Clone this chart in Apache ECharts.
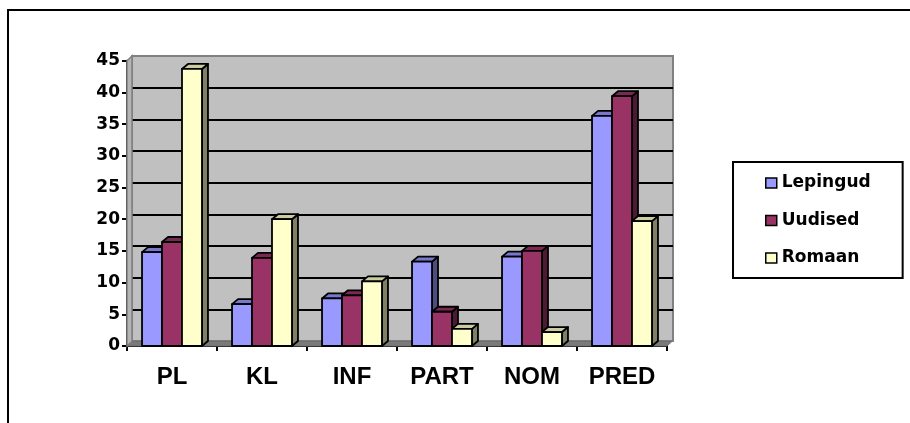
<!DOCTYPE html>
<html>
<head>
<meta charset="utf-8">
<script src="https://cdn.jsdelivr.net/npm/echarts@6/dist/echarts.min.js"></script>
<style>
  html, body { margin: 0; padding: 0; background: #ffffff; }
  #chart { width: 910px; height: 423px; }
</style>
</head>
<body>
<div id="chart"></div>
<script>
// Categories and series values
const categories = ['PL', 'KL', 'INF', 'PART', 'NOM', 'PRED'];
const lepingud = [14.8, 6.6, 7.5, 13.3, 14.1, 36.3];
const uudised  = [16.4, 13.9, 8.0, 5.4, 15.0, 39.4];
const romaan   = [43.7, 20.0, 10.2, 2.7, 2.2, 19.7];
const seriesNames = ['Lepingud', 'Uudised', 'Romaan'];
const yMin = 0, yMax = 45, yStep = 5;

// Face colours for the pseudo-3D columns: front, top, side
const palette = [
  { front: '#9999FF', top: '#7777CC', side: '#4D4D80' },
  { front: '#993366', top: '#7A2952', side: '#4D1A33' },
  { front: '#FFFFCC', top: '#CCCCA3', side: '#808066' }
];
const DEPTH_X = 6, DEPTH_Y = 5;      // column depth
const WALL_X = 5, WALL_Y = 4.7;      // floor / side wall depth

function columnRenderer(sIdx) {
  return function (params, api) {
    const band = api.size([1, 0])[0];
    const bw = band * 0.222;
    const top = api.coord([api.value(0), api.value(1)]);
    const base = api.coord([api.value(0), 0]);
    const x = top[0] - 1.5 * bw + sIdx * bw;
    const y = top[1];
    const yb = base[1];
    const col = palette[sIdx];
    const stroke = { stroke: '#000', lineWidth: 1.8, lineJoin: 'round' };
    return {
      type: 'group',
      children: [
        { type: 'polygon', shape: { points: [[x + bw, y], [x + bw + DEPTH_X, y - DEPTH_Y], [x + bw + DEPTH_X, yb - DEPTH_Y], [x + bw, yb]] },
          style: Object.assign({ fill: col.side }, stroke) },
        { type: 'polygon', shape: { points: [[x, y], [x + DEPTH_X, y - DEPTH_Y], [x + bw + DEPTH_X, y - DEPTH_Y], [x + bw, y]] },
          style: Object.assign({ fill: col.top }, stroke) },
        { type: 'rect', shape: { x: x, y: y, width: bw, height: yb - y },
          style: Object.assign({ fill: col.front }, stroke) }
      ]
    };
  };
}

// Floor and left side wall of the plot box
function wallRenderer(params, api) {
  const band = api.size([1, 0])[0];
  const xL = api.coord([0, 0])[0] - band / 2;
  const xR = api.coord([categories.length - 1, 0])[0] + band / 2;
  const yB = api.coord([0, yMin])[1];
  const yT = api.coord([0, yMax])[1];
  return {
    type: 'group',
    children: [
      { type: 'polygon', shape: { points: [[xL, yB], [xR, yB], [xR + WALL_X, yB - WALL_Y], [xL + WALL_X, yB - WALL_Y]] },
        style: { fill: '#7A7A7A', stroke: '#6E6E6E', lineWidth: 1 } },
      { type: 'polygon', shape: { points: [[xL, yB], [xL, yT], [xL + WALL_X, yT - WALL_Y], [xL + WALL_X, yB - WALL_Y]] },
        style: { fill: '#B4B4B4', stroke: '#808080', lineWidth: 1.5 } }
    ]
  };
}

const seriesData = [lepingud, uudised, romaan];
const barSeries = seriesNames.map(function (name, i) {
  return {
    name: name,
    type: 'custom',
    xAxisIndex: 0,
    yAxisIndex: 0,
    z: 5 + i,
    itemStyle: { color: palette[i].front },
    encode: { x: 0, y: 1 },
    renderItem: columnRenderer(i),
    data: seriesData[i].map(function (v, c) { return [c, v]; })
  };
});

const gridLineColors = [];
for (let v = yMin; v <= yMax; v += yStep) {
  gridLineColors.push(v === yMin || v === yMax ? '#808080' : '#000000');
}

const chart = echarts.init(document.getElementById('chart'), null, { renderer: 'canvas' });
chart.setOption({
  backgroundColor: '#ffffff',
  animation: false,
  graphic: [
    { type: 'rect', shape: { x: 8, y: 10, width: 1000, height: 500 },
      style: { fill: 'none', stroke: '#000', lineWidth: 2 }, z: 0 }
  ],
  legend: {
    orient: 'vertical',
    left: 733,
    top: 162,
    padding: [11, 32, 10, 32],
    itemGap: 17.5,
    itemWidth: 11,
    itemHeight: 10,
    icon: 'rect',
    borderColor: '#000',
    borderWidth: 2,
    itemStyle: { borderColor: '#000', borderWidth: 1.5 },
    textStyle: { fontFamily: 'DejaVu Sans', fontWeight: 'bold', fontSize: 17, color: '#000', lineHeight: 20, padding: [0, 0, 0, 0] },
    data: seriesNames
  },
  grid: [
    { left: 127, right: 243, top: 60.7, bottom: 77, containLabel: false },
    { left: 132, right: 237, top: 56, bottom: 82, containLabel: false,
      show: true, backgroundColor: '#C0C0C0', borderColor: '#808080', borderWidth: 2 }
  ],
  xAxis: [
    {
      type: 'category', gridIndex: 0, data: categories,
      axisLine: { lineStyle: { color: '#000', width: 2 } },
      axisTick: { show: true, length: 5, lineStyle: { color: '#000', width: 2 } },
      axisLabel: { fontFamily: 'Liberation Sans', fontWeight: 'bold', fontSize: 24, color: '#000', margin: 19 },
      splitLine: { show: false }
    },
    {
      type: 'category', gridIndex: 1, data: categories, show: false
    }
  ],
  yAxis: [
    {
      type: 'value', gridIndex: 0, min: yMin, max: yMax, interval: yStep,
      axisLine: { show: true, lineStyle: { color: '#000', width: 2 } },
      axisTick: { show: true, length: 5, lineStyle: { color: '#000', width: 2 } },
      axisLabel: { fontFamily: 'DejaVu Sans', fontWeight: 'bold', fontSize: 17, color: '#000', margin: 7 },
      splitLine: { show: false }
    },
    {
      type: 'value', gridIndex: 1, min: yMin, max: yMax, interval: yStep,
      axisLine: { show: false }, axisTick: { show: false }, axisLabel: { show: false },
      splitLine: { show: true, lineStyle: { color: gridLineColors, width: 2 } }
    }
  ],
  series: [
    {
      type: 'custom', name: 'walls', xAxisIndex: 0, yAxisIndex: 0, z: 1, silent: true,
      renderItem: wallRenderer, encode: { x: 0, y: 1 }, data: [[0, 0]]
    }
  ].concat(barSeries)
});
</script>
</body>
</html>
